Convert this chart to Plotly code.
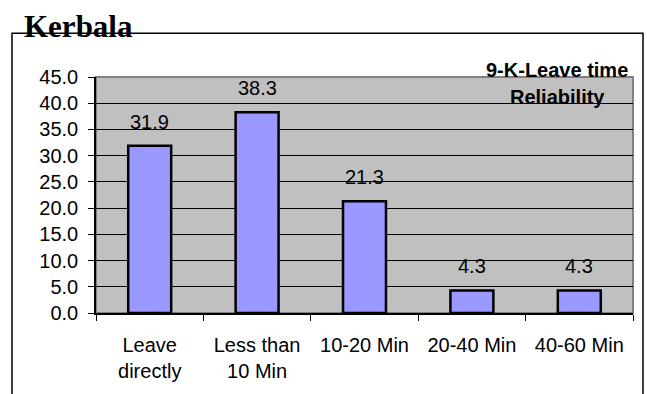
import plotly.graph_objects as go

# Survey results: how long people wait before leaving (percent of responses)
categories = ["Leave<br>directly", "Less than<br>10 Min", "10-20 Min", "20-40 Min", "40-60 Min"]
values = [31.9, 38.3, 21.3, 4.3, 4.3]
y_ticks = [0, 5, 10, 15, 20, 25, 30, 35, 40, 45]

W, H = 647, 394
ML, MR, MT, MB = 96, 14, 77, 79
PW, PH = W - ML - MR, H - MT - MB


def px_x(px):
    return (px - ML) / PW


def px_y(py):
    return (H - MB - py) / PH


FONT = "Liberation Sans, Arial, sans-serif"

fig = go.Figure(
    go.Bar(
        x=categories,
        y=values,
        width=0.4,
        marker=dict(color="#9999FF", line=dict(color="black", width=2.5)),
        hoverinfo="skip",
    )
)

# value labels above each bar
for c, v in zip(categories, values):
    fig.add_annotation(
        x=c, y=v, text=f"{v:.1f}", showarrow=False, yanchor="bottom", yshift=11,
        font=dict(family=FONT, size=20, color="black"),
    )

# chart title
fig.add_annotation(
    xref="paper", yref="paper", x=px_x(22), y=px_y(26), xanchor="left", yanchor="middle",
    text="<b>Kerbala</b>", showarrow=False,
    font=dict(family="Liberation Serif, Times New Roman, serif", size=31, color="black"),
)

# series caption in the top-right corner
for line, cy in (("9-K-Leave time", 70), ("Reliability", 97)):
    fig.add_annotation(
        xref="paper", yref="paper", x=px_x(557), y=px_y(cy), xanchor="center", yanchor="middle",
        text=f"<b>{line}</b>", showarrow=False,
        font=dict(family=FONT, size=20, color="black"),
    )

# outer chart frame (open at the bottom edge of the page)
fig.add_shape(
    type="rect", xref="paper", yref="paper",
    x0=px_x(12), x1=px_x(643), y0=px_y(H + 20), y1=px_y(33),
    line=dict(color="black", width=1.5), layer="above",
)
# plot-area border
fig.add_shape(
    type="rect", xref="paper", yref="paper", x0=0, x1=1, y0=0, y1=1,
    line=dict(color="#808080", width=2), layer="below",
)

fig.update_layout(
    width=W, height=H,
    margin=dict(l=ML, r=MR, t=MT, b=MB),
    paper_bgcolor="white",
    plot_bgcolor="#C0C0C0",
    showlegend=False,
    font=dict(family=FONT, size=20, color="black"),
)
fig.update_xaxes(
    type="category",
    showline=True, linecolor="black", linewidth=1.5,
    ticks="outside", tickson="boundaries", ticklen=6, tickcolor="black", tickwidth=1,
    showgrid=False,
    tickfont=dict(family=FONT, size=20, color="black"),
    ticklabelstandoff=13,
)
fig.update_yaxes(
    range=[0, 45], tickvals=y_ticks, tickformat=".1f",
    showline=True, linecolor="black", linewidth=1.5,
    ticks="outside", ticklen=6, tickcolor="black", tickwidth=1,
    showgrid=True, gridcolor="black", gridwidth=1,
    zeroline=False,
    tickfont=dict(family=FONT, size=20, color="black"),
    ticklabelstandoff=6,
)

fig.write_html("out.html")
